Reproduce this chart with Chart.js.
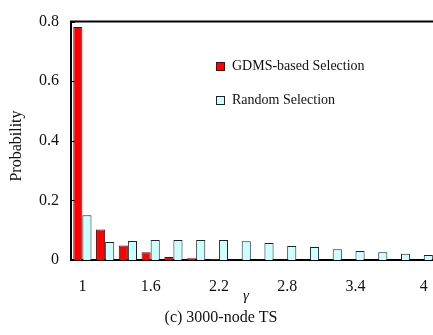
<!DOCTYPE html>
<html>
<head>
<meta charset="utf-8">
<script src="https://cdn.jsdelivr.net/npm/chart.js@4"></script>
<style>
  html, body { margin: 0; padding: 0; background: #fff; overflow: hidden; }
  #wrap { width: 433px; height: 335px; overflow: hidden; }
</style>
</head>
<body>
<div id="wrap"><canvas id="chart" width="445" height="335"></canvas></div>
<script>
const gammaLabels = ["1", "1.2", "1.4", "1.6", "1.8", "2", "2.2", "2.4", "2.6", "2.8", "3", "3.2", "3.4", "3.6", "3.8", "4"];
const gdmsValues = [0.782, 0.102, 0.049, 0.026, 0.010, 0.006, 0.003, 0.002, 0.002, 0.002, 0.001, 0, 0, 0, 0, 0];
const randomValues = [0.150, 0.060, 0.064, 0.067, 0.067, 0.067, 0.067, 0.063, 0.057, 0.047, 0.044, 0.036, 0.030, 0.026, 0.021, 0.017];
const seriesNames = ["GDMS-based Selection", "Random Selection"];
const yTicks = [0, 0.2, 0.4, 0.6, 0.8];

const serif = "'Liberation Serif', 'Times New Roman', serif";

// extra drawing: frame top, inward ticks, legend, titles
const decorations = {
  id: "decorations",
  afterDraw(chart) {
    const ctx = chart.ctx;
    const area = chart.chartArea;
    const y = chart.scales.y;
    ctx.save();
    ctx.strokeStyle = "#000";
    ctx.lineWidth = 2;
    ctx.beginPath();
    ctx.moveTo(area.left - 1, area.top);
    ctx.lineTo(area.right, area.top);
    ctx.stroke();

    ctx.lineWidth = 1;
    yTicks.forEach((v) => {
      const py = Math.round(y.getPixelForValue(v)) + 0.5;
      ctx.beginPath();
      ctx.moveTo(area.left, py);
      ctx.lineTo(area.left + 4, py);
      ctx.stroke();
    });

    // legend
    ctx.font = "14px " + serif;
    ctx.textBaseline = "middle";
    ctx.textAlign = "left";
    chart.data.datasets.forEach((ds, i) => {
      const ly = 62 + i * 34;
      ctx.fillStyle = ds.backgroundColor;
      ctx.fillRect(216, ly, 9, 9);
      ctx.strokeStyle = "#222";
      ctx.strokeRect(216.5, ly + 0.5, 8, 8);
      ctx.fillStyle = "#111";
      ctx.fillText(ds.label, 232, ly + 4);
    });

    // y title
    ctx.save();
    ctx.translate(17, 146);
    ctx.rotate(-Math.PI / 2);
    ctx.textAlign = "center";
    ctx.font = "16px " + serif;
    ctx.fillText("Probability", 0, 0);
    ctx.restore();

    // x title and caption
    ctx.textAlign = "center";
    ctx.font = "italic 15px " + serif;
    ctx.fillText("γ", 246, 296);
    ctx.font = "16px " + serif;
    ctx.fillText("(c) 3000-node TS", 221, 318);
    ctx.restore();
  }
};

new Chart(document.getElementById("chart"), {
  type: "bar",
  data: {
    labels: gammaLabels,
    datasets: [
      {
        label: seriesNames[0],
        data: gdmsValues,
        backgroundColor: "#ff0000",
        borderColor: "#222",
        borderWidth: 1,
        categoryPercentage: 0.8,
        barPercentage: 1.0,
      },
      {
        label: seriesNames[1],
        data: randomValues,
        backgroundColor: "#ccffff",
        borderColor: "#222",
        borderWidth: 1,
        categoryPercentage: 0.8,
        barPercentage: 1.0,
      },
    ],
  },
  options: {
    responsive: false,
    animation: false,
    layout: { padding: { top: 11, right: 8, left: 0, bottom: 0 } },
    plugins: {
      legend: { display: false },
      tooltip: { enabled: false },
    },
    scales: {
      x: {
        grid: { display: false, drawTicks: false },
        border: { display: true, color: "#000", width: 2 },
        ticks: {
          autoSkip: false,
          maxRotation: 0,
          padding: 17,
          color: "#111",
          font: { family: serif, size: 16 },
          callback: function (val, index) {
            return index % 3 === 0 ? gammaLabels[index] : "";
          },
        },
        afterFit: (scale) => { scale.height = 75; },
      },
      y: {
        min: 0,
        max: 0.8,
        grid: { display: false, drawTicks: false },
        border: { display: true, color: "#000", width: 2 },
        ticks: {
          stepSize: 0.2,
          padding: 12,
          color: "#111",
          font: { family: serif, size: 16 },
        },
        afterFit: (scale) => { scale.width = 71; },
      },
    },
  },
  plugins: [decorations],
});
</script>
</body>
</html>
